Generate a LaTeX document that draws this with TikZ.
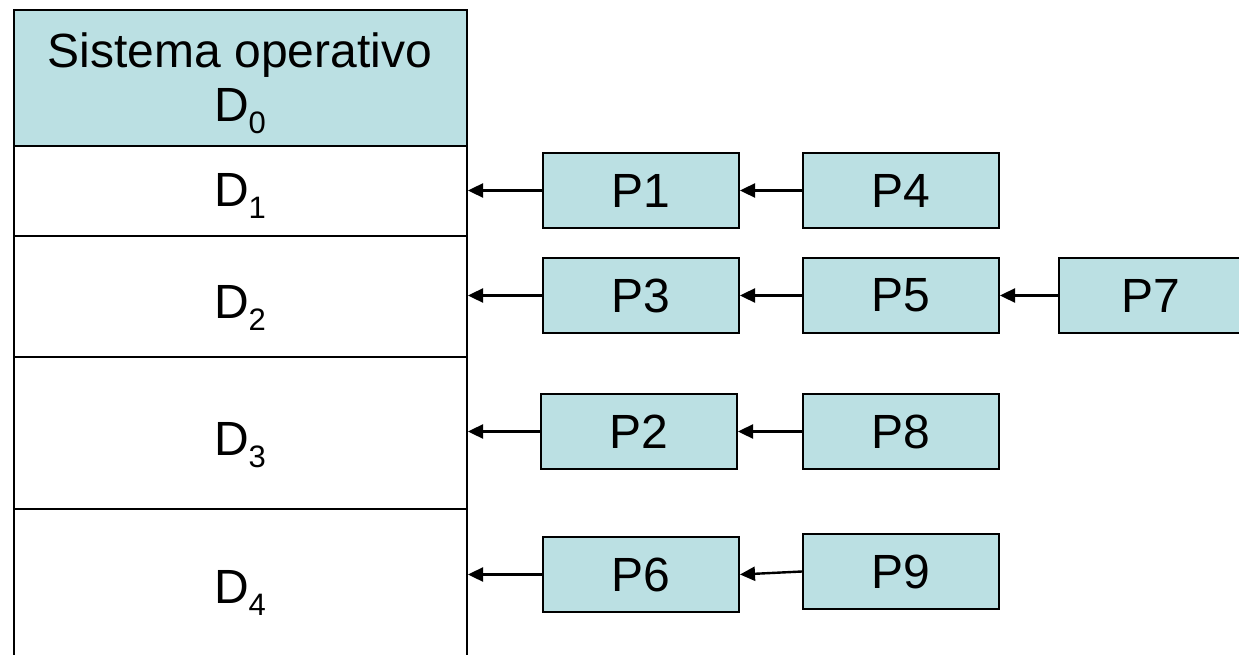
\documentclass[tikz,border=0pt]{standalone}
\usepackage{fontspec}
\setmainfont{Liberation Sans}
\usetikzlibrary{arrows.meta}
\definecolor{pbox}{HTML}{BBE0E3}
\newcommand{\Dsub}[1]{D\raisebox{-0.25em}{\fontsize{31}{31}\selectfont #1}}
\begin{document}
\begin{tikzpicture}[x=1pt,y=-1pt,
  every node/.style={font=\fontsize{48}{54}\selectfont, inner sep=0pt},
  cell/.style={draw, line width=2pt, minimum width=453pt, anchor=north west},
  proc/.style={draw, line width=2pt, fill=pbox, minimum width=196pt, minimum height=75pt},
  arr/.style={line width=2.4pt, -{Triangle[length=15pt,width=14pt]}}]
\useasboundingbox (0,0) rectangle (1239,655);
\clip (0,0) rectangle (1239,655);
% memory column
\node[cell, fill=pbox, minimum height=136pt] (c0) at (13,9) {};
\node[cell, minimum height=90pt] (c1) at (13,145) {};
\node[cell, minimum height=121pt] (c2) at (13,235) {};
\node[cell, minimum height=152pt] (c3) at (13,356) {};
\node[cell, minimum height=170pt] (c4) at (13,508) {};
\node[anchor=base] (t0a) at (240,68) {Sistema operativo};
\node[anchor=base] (t0b) at (240,122) {\Dsub{0}};
\node[anchor=base] (t1) at (240,207) {\Dsub{1}};
\node[anchor=base] (t2) at (240,318) {\Dsub{2}};
\node[anchor=base] (t3) at (240,455) {\Dsub{3}};
\node[anchor=base] (t4) at (240,603) {\Dsub{4}};
% processes
\node[proc] (p1) at (641,190.5) {P1};
\node[proc] (p4) at (901,190.5) {P4};
\node[proc] (p3) at (641,295.5) {P3};
\node[proc] (p5) at (901,295.5) {P5};
\node[proc, minimum width=184pt] (p7) at (1151,295.5) {P7};
\node[proc] (p2) at (639,431.5) {P2};
\node[proc] (p8) at (901,431.5) {P8};
\node[proc] (p6) at (641,574.5) {P6};
\node[proc] (p9) at (901,571.5) {P9};
% arrows
\draw[arr] (p1.west) -- (p1.west -| c1.east);
\draw[arr] (p4.west) -- (p1.east);
\draw[arr] (p3.west) -- (p3.west -| c2.east);
\draw[arr] (p5.west) -- (p3.east);
\draw[arr] (p7.west) -- (p5.east);
\draw[arr] (p2.west) -- (p2.west -| c3.east);
\draw[arr] (p8.west) -- (p2.east);
\draw[arr] (p6.west) -- (p6.west -| c4.east);
\draw[arr] (p9.west) -- (p6.east);
\end{tikzpicture}
\end{document}
